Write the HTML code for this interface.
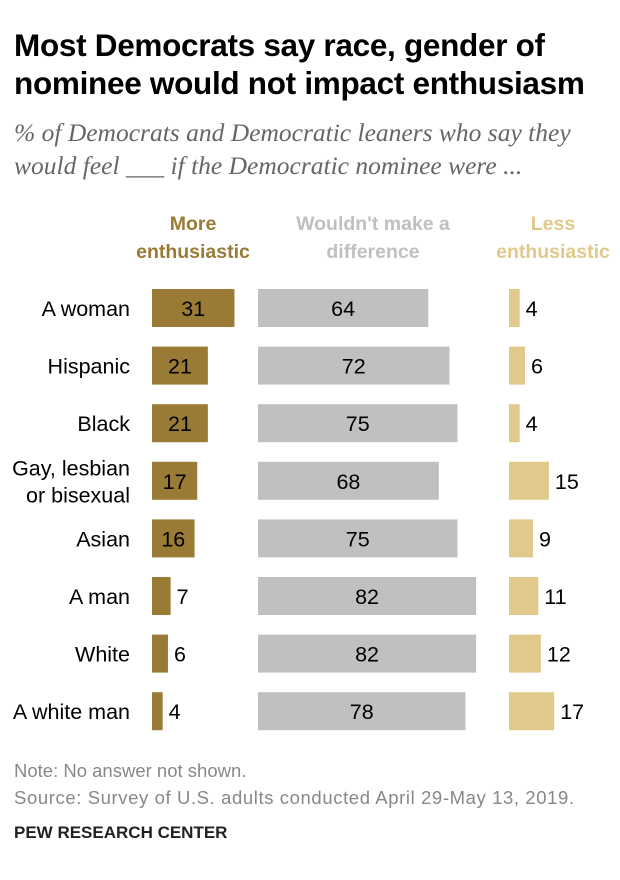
<!DOCTYPE html>
<html><head><meta charset="utf-8"><style>
body{margin:0;background:#fff;width:620px;height:880px;overflow:hidden;font-family:"Liberation Sans",sans-serif;}
.t{position:absolute;left:14px;top:26px;font-size:31.5px;font-weight:bold;line-height:38px;color:#000;letter-spacing:-0.3px;white-space:nowrap}
.s{position:absolute;left:14px;top:116px;font-family:"Liberation Serif",serif;font-style:italic;font-size:25.5px;line-height:33px;color:#666;white-space:nowrap}
.n{position:absolute;left:14px;font-size:18.5px;color:#888;white-space:nowrap}
.p{position:absolute;left:14px;top:823px;font-size:17px;font-weight:bold;color:#222}
</style></head><body>
<div class="t">Most Democrats say race, gender of<br>nominee would not impact enthusiasm</div>
<div class="s">% of Democrats and Democratic leaners who say they<br>would feel ___ if the Democratic nominee were ...</div>
<svg id="c" width="620" height="880" style="position:absolute;left:0;top:0"></svg>
<div class="n" style="top:760px">Note: No answer not shown.</div>
<div class="n" style="top:787px;letter-spacing:0.6px">Source: Survey of U.S. adults conducted April 29-May 13, 2019.</div>
<div class="p">PEW RESEARCH CENTER</div>
<script>
const categories=["A woman","Hispanic","Black","Gay, lesbian|or bisexual","Asian","A man","White","A white man"];
const more=[31,21,21,17,16,7,6,4];
const neutral=[64,72,75,68,75,82,82,78];
const less=[4,6,4,15,9,11,12,17];
const svg=document.getElementById('c');const NS='http://www.w3.org/2000/svg';
const k=2.66;const x=v=>v*k;
const rowY=i=>308+i*57.6;
function el(t,a,txt){const e=document.createElementNS(NS,t);for(const q in a)e.setAttribute(q,a[q]);if(txt!=null)e.textContent=txt;svg.appendChild(e);return e;}
function hdr(cx,lines,col,nm){lines.forEach((l,j)=>{const e=el('text',{x:cx,y:230+j*28,'text-anchor':'middle','font-size':19.5,'font-weight':'bold',fill:col,'font-family':'Liberation Sans'},l);

});}
hdr(193,["More","enthusiastic"],"#9a7b36","header-more");
hdr(373,["Wouldn't make a","difference"],"#c0c0c0","header-neutral");
hdr(553,["Less","enthusiastic"],"#e0c98b","header-less");
categories.forEach((c,i)=>{const y=rowY(i);const h=38;
const parts=c.split('|');parts.forEach((p,j)=>{const e=el('text',{x:130,y:y+8+(j-(parts.length-1)/2)*27,'text-anchor':'end','font-size':21.5,fill:'#000'},p);

});
const specs=[[152,more[i],'#9a7b36','bar-more',true],[258,neutral[i],'#c0c0c0','bar-neutral',false],[509,less[i],'#e0c98b','bar-less',false]];
specs.forEach(([x0,v,col,nm,isMore])=>{const w=x(v);
const r=el('rect',{x:x0,y:y-h/2,width:w,height:h,fill:col});


let tx,anchor;
if(nm==='bar-less'||(isMore&&v<12)){tx=x0+w+6;anchor='start';}else{tx=x0+w/2;anchor='middle';}
const t=el('text',{x:tx,y:y+8,'text-anchor':anchor,'font-size':21.5,fill:'#000'},String(v));

});
});
</script>
</body></html>
